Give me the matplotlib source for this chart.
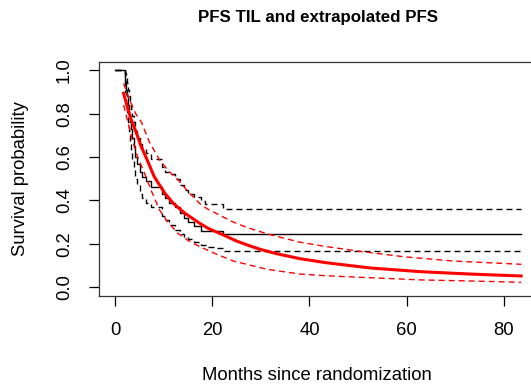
import matplotlib
matplotlib.use("Agg")
import matplotlib.pyplot as plt

plt.rcParams['font.family'] = ['Liberation Sans', 'DejaVu Sans']

# Kaplan-Meier PFS (step changes) with 95% CI
km_t = [0, 2.0, 2.3, 2.5, 2.7, 2.9, 3.1, 3.3, 3.5, 3.8, 4.1, 4.5, 5.0, 5.6, 6.3, 7.4,
        9.6, 10.2, 11.0, 12.2, 13.3, 14.2, 15.0, 16.3, 17.7, 22.2, 83.6]
km_s = [1.0, 0.95, 0.91, 0.88, 0.84, 0.80, 0.76, 0.73, 0.69, 0.65, 0.60, 0.57, 0.53, 0.51, 0.49, 0.464,
        0.43, 0.41, 0.39, 0.37, 0.34, 0.32, 0.30, 0.28, 0.26, 0.244, 0.244]

up_t = [0, 2.0, 2.3, 2.5, 2.7, 2.9, 3.1, 3.3, 3.5, 3.8, 4.1, 4.5, 5.0, 5.6, 6.3, 7.4,
        9.6, 10.2, 11.0, 12.2, 13.3, 14.2, 15.0, 16.3, 17.7, 18.4, 22.2, 83.6]
up_s = [1.0, 0.99, 0.97, 0.94, 0.91, 0.88, 0.85, 0.82, 0.79, 0.76, 0.72, 0.69, 0.66, 0.64, 0.62, 0.59,
        0.556, 0.53, 0.52, 0.50, 0.47, 0.45, 0.43, 0.417, 0.395, 0.382, 0.362, 0.362]

lo_t = [0, 2.0, 2.3, 2.5, 2.7, 2.9, 3.1, 3.3, 3.5, 3.8, 4.1, 4.5, 5.0, 5.6, 6.3, 7.4,
        9.6, 10.2, 11.0, 12.2, 13.3, 14.2, 15.0, 16.3, 17.7, 19.1, 20.5, 22.2, 83.6]
lo_s = [1.0, 0.90, 0.85, 0.81, 0.76, 0.72, 0.67, 0.63, 0.59, 0.55, 0.50, 0.47, 0.43, 0.41, 0.39, 0.371,
        0.33, 0.31, 0.285, 0.264, 0.245, 0.233, 0.22, 0.209, 0.195, 0.184, 0.179, 0.166, 0.166]

# extrapolated PFS with CI
fit_t = [1.7, 2.5, 3.3, 4.2, 5.3, 6.5, 8.0, 10.2, 12.0, 14.3, 17.4, 19.1, 21.9, 25.0,
         27.7, 30.0, 33.2, 38.0, 43.5, 52.5, 62.8, 73.0, 83.6]
fit_s = [0.894, 0.83, 0.77, 0.72, 0.65, 0.59, 0.51, 0.433, 0.385, 0.341, 0.294, 0.271, 0.244, 0.212,
         0.19, 0.173, 0.154, 0.131, 0.112, 0.088, 0.071, 0.06, 0.051]

fit_up_t = [1.7, 3.0, 4.2, 5.4, 7.0, 9.1, 11.0, 12.9, 15.0, 17.4, 19.0, 24.3, 27.1, 31.5,
            38.0, 44.0, 50.0, 59.3, 69.6, 83.6]
fit_up_s = [0.94, 0.86, 0.80, 0.76, 0.67, 0.587, 0.535, 0.495, 0.44, 0.385, 0.36, 0.30, 0.275, 0.244,
            0.207, 0.185, 0.166, 0.14, 0.12, 0.105]

fit_lo_t = [1.7, 2.6, 3.5, 4.6, 6.0, 7.5, 9.1, 10.8, 12.9, 15.0, 17.4, 20.5, 24.3, 31.2,
            38.0, 43.5, 52.5, 62.8, 73.0, 83.6]
fit_lo_s = [0.84, 0.76, 0.68, 0.60, 0.526, 0.44, 0.356, 0.30, 0.248, 0.215, 0.186, 0.155, 0.12, 0.082,
            0.06, 0.052, 0.043, 0.033, 0.028, 0.022]

fig = plt.figure(figsize=(5.31, 3.89), dpi=100)
ax = fig.add_axes([99 / 531, 1 - 295.7 / 389, 440.4 / 531, 234 / 389])

dash = (4.3, 2.9)
ax.step(km_t, km_s, where='post', color='black', lw=1)
ax.step(up_t, up_s, where='post', color='black', lw=1, dashes=dash)
ax.step(lo_t, lo_s, where='post', color='black', lw=1, dashes=dash)

ax.plot(fit_t, fit_s, color='red', lw=2.2)
ax.plot(fit_up_t, fit_up_s, color='red', lw=1, dashes=dash)
ax.plot(fit_lo_t, fit_lo_s, color='red', lw=1, dashes=dash)

ax.set_xlim(-3.36, 87.36)
ax.set_ylim(-0.04, 1.04)
ax.set_xticks([0, 20, 40, 60, 80])
ax.set_yticks([0.0, 0.2, 0.4, 0.6, 0.8, 1.0])
ax.set_yticklabels(['0.0', '0.2', '0.4', '0.6', '0.8', '1.0'])
ax.tick_params(length=7.2, width=0.9, pad=11.5, labelsize=13.3)
for lab in ax.get_yticklabels():
    lab.set_rotation(90)
    lab.set_va('center')
for s in ax.spines.values():
    s.set_linewidth(0.9)
    s.set_color('#333333')

ax.set_xlabel('Months since randomization', fontsize=13.3, va='center')
ax.xaxis.set_label_coords(0.495, (295.7 - 376) / 234)
ax.set_ylabel('Survival probability', fontsize=13.3, va='center')
ax.yaxis.set_label_coords((21 - 99) / 440.4, 0.5)

fig.text(317.5 / 531, 1 - 17.5 / 389, 'PFS TIL and extrapolated PFS',
         ha='center', va='center', fontsize=12.2, fontweight='bold')

fig.savefig('out.png', dpi=100)
